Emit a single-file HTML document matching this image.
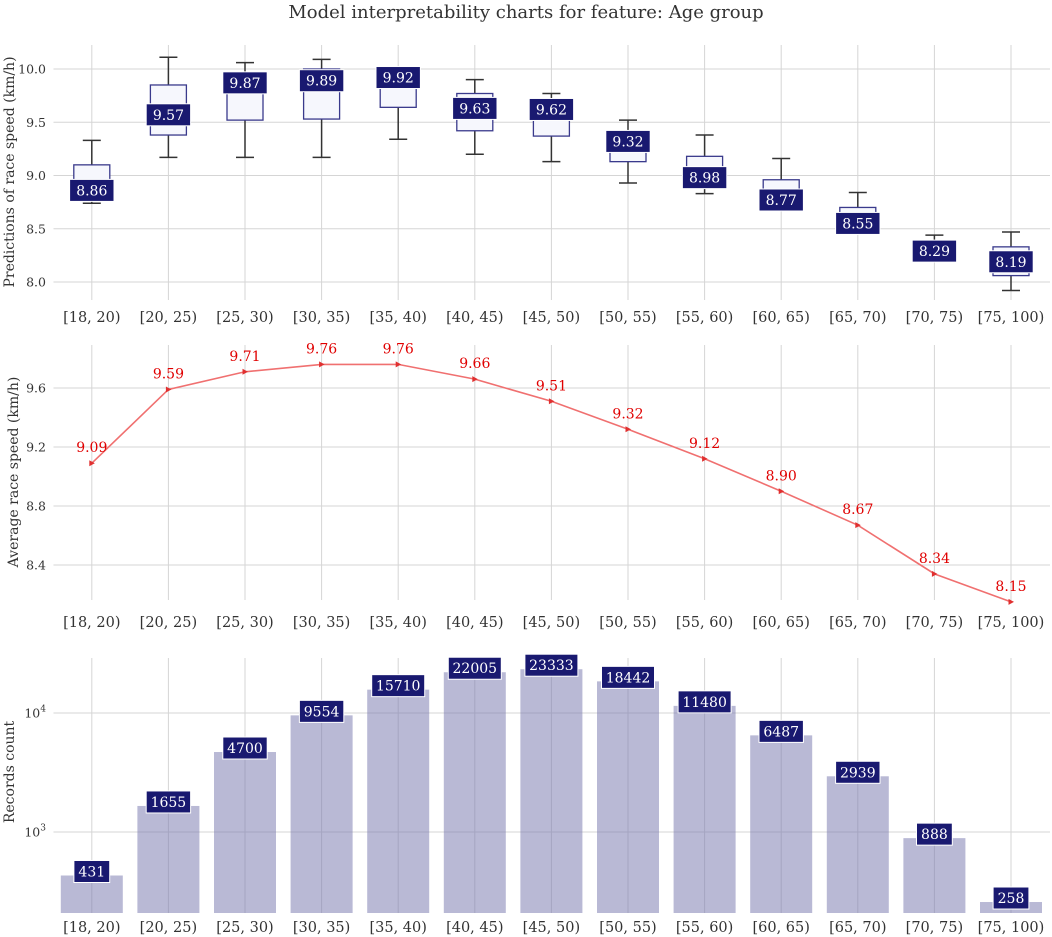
<!DOCTYPE html>
<html><head><meta charset="utf-8">
<style>
html,body{margin:0;padding:0;background:#fff;}
svg{display:block;font-family:"DejaVu Serif","Liberation Serif",serif;}
</style></head>
<body>
<svg id="chart" width="1052" height="937" viewBox="0 0 1052 937">
<text x="526" y="18" text-anchor="middle" font-size="18" fill="#333">Model interpretability charts for feature: Age group</text>
</svg>
<script>
const categories=["[18, 20)","[20, 25)","[25, 30)","[30, 35)","[35, 40)","[40, 45)","[45, 50)","[50, 55)","[55, 60)","[60, 65)","[65, 70)","[70, 75)","[75, 100)"];
const boxMedians=[8.86,9.57,9.87,9.89,9.92,9.63,9.62,9.32,8.98,8.77,8.55,8.29,8.19];
const boxQ1=[8.77,9.38,9.52,9.53,9.64,9.42,9.37,9.13,8.88,8.68,8.48,8.21,8.06];
const boxQ3=[9.10,9.85,9.97,10.0,9.98,9.77,9.72,9.42,9.18,8.96,8.70,8.36,8.33];
const whiskLow=[8.74,9.17,9.17,9.17,9.34,9.20,9.13,8.93,8.83,8.68,8.48,8.20,7.92];
const whiskHigh=[9.33,10.11,10.06,10.09,9.98,9.90,9.77,9.52,9.38,9.16,8.84,8.44,8.47];
const boxTicks=[8.0,8.5,9.0,9.5,10.0];
const avgSpeed=[9.09,9.59,9.71,9.76,9.76,9.66,9.51,9.32,9.12,8.90,8.67,8.34,8.15];
const avgTicks=[8.4,8.8,9.2,9.6];
const counts=[431,1655,4700,9554,15710,22005,23333,18442,11480,6487,2939,888,258];
const countTicks=[3,4];

const svg=document.getElementById('chart');
const NS='http://www.w3.org/2000/svg';
function el(tag,attrs,parent){const e=document.createElementNS(NS,tag);for(const k in attrs)e.setAttribute(k,attrs[k]);(parent||svg).appendChild(e);return e;}
const x0=53.5,bw=76.6;
const xc=i=>x0+bw*(i+0.5);
const yBox=v=>69+(10-v)*106.5;
const yAvg=v=>388+(9.6-v)*147.5;
const yCnt=v=>832-(Math.log10(v)-3)*119;

function panel(name,top,bottom,ticks,yf,fmt,title,titleY,labelY){
  const g=el('g',{});
  
  
  categories.forEach((c,i)=>{
    const l=el('line',{x1:xc(i),x2:xc(i),y1:top,y2:bottom,stroke:'#d5d5d5','stroke-width':1},g);
    
    
    const t=el('text',{x:xc(i),y:labelY,'text-anchor':'middle','font-size':14.5,fill:'#333'},g);
    t.textContent=c;
    
    
  });
  ticks.forEach(v=>{
    const y=yf(v);
    const l=el('line',{x1:x0,x2:1050,y1:y,y2:y,stroke:'#d5d5d5','stroke-width':1},g);
    
    
    const t=el('text',{x:46,y:y+4.5,'text-anchor':'end','font-size':12.5,fill:'#333'},g);
    fmt(t,v);
    
    
  });
  const yt=el('text',{transform:`translate(${name==='average-panel'?18:14},${titleY}) rotate(-90)`,'text-anchor':'middle','font-size':14,fill:'#333'},g);
  yt.textContent=title;
  
  
  return g;
}
function label(g,x,y,txt,name){
  const w=txt.length*8.6+10;
  const r=el('rect',{x:x-w/2,y:y-11,width:w,height:22,fill:'#191970',stroke:'#fff','stroke-width':1},g);
  
  
  const t=el('text',{x:x,y:y+5,'text-anchor':'middle','font-size':14,fill:'#fff'},g);
  t.textContent=txt;
  
  
}

const g1=panel('boxplot-panel',45,300,boxTicks,yBox,(t,v)=>t.textContent=v.toFixed(1),'Predictions of race speed (km/h)',172,322);
categories.forEach((c,i)=>{
  const x=xc(i),hw=18;
  const w=el('line',{x1:x,x2:x,y1:yBox(whiskHigh[i]),y2:yBox(whiskLow[i]),stroke:'#333','stroke-width':1.5},g1);
  
  
  [whiskHigh[i],whiskLow[i]].forEach(v=>{
    const cap=el('line',{x1:x-9,x2:x+9,y1:yBox(v),y2:yBox(v),stroke:'#333','stroke-width':1.5},g1);
    
    
  });
  const b=el('rect',{x:x-hw,y:yBox(boxQ3[i]),width:hw*2,height:yBox(boxQ1[i])-yBox(boxQ3[i]),fill:'#f6f7fd',stroke:'#3a3a8c','stroke-width':1.3},g1);
  
  
  label(g1,x,yBox(boxMedians[i]),boxMedians[i].toFixed(2),'median-label');
});

const g2=panel('average-panel',345,600,avgTicks,yAvg,(t,v)=>t.textContent=v.toFixed(1),'Average race speed (km/h)',472,627);
const pts=avgSpeed.map((v,i)=>xc(i)+','+yAvg(v)).join(' ');
const pl=el('polyline',{points:pts,fill:'none',stroke:'#f07070','stroke-width':1.6},g2);


avgSpeed.forEach((v,i)=>{
  const x=xc(i),y=yAvg(v);
  const m=el('path',{d:`M${x-2.5},${y-3} L${x+3},${y} L${x-2.5},${y+3} Z`,fill:'#e03030'},g2);
  
  
  const t=el('text',{x:x,y:y-11,'text-anchor':'middle','font-size':14,fill:'#e00000'},g2);
  t.textContent=v.toFixed(2);
  
  
});

const g3=panel('count-panel',658,913,[],yCnt,()=>{},'Records count',772,932);
countTicks.forEach(p=>{
  const y=yCnt(Math.pow(10,p));
  const l=el('line',{x1:x0,x2:1050,y1:y,y2:y,stroke:'#d5d5d5','stroke-width':1},g3);
  
  
  const t=el('text',{x:46,y:y+4.5,'text-anchor':'end','font-size':12.5,fill:'#333'},g3);
  t.innerHTML='10<tspan dy="-6" font-size="9">'+p+'</tspan>';
  
  
});
counts.forEach((v,i)=>{
  const x=xc(i),y=yCnt(v);
  const b=el('rect',{x:x-31,y:y,width:62,height:913-y,fill:'rgba(120,120,175,0.52)'},g3);
  
  
  label(g3,x,y-4,String(v),'count-label');
});
</script>
</body></html>
